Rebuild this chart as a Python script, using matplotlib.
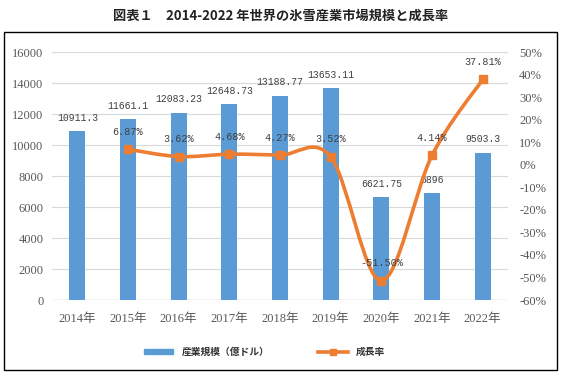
import matplotlib
matplotlib.use("Agg")
import matplotlib.pyplot as plt
from matplotlib.path import Path
from matplotlib.patches import PathPatch, Rectangle
from matplotlib.lines import Line2D
import numpy as np

plt.rcParams['font.family'] = ['Noto Sans CJK JP', 'DejaVu Sans']

years = ["2014年", "2015年", "2016年", "2017年", "2018年", "2019年", "2020年", "2021年", "2022年"]
market = [10911.3, 11661.1, 12083.23, 12648.73, 13188.77, 13653.11, 6621.75, 6896, 9503.3]
market_labels = ["10911.3", "11661.1", "12083.23", "12648.73", "13188.77", "13653.11", "6621.75", "6896", "9503.3"]
growth_years_idx = [1, 2, 3, 4, 5, 6, 7, 8]
growth = [6.87, 3.62, 4.68, 4.27, 3.52, -51.50, 4.14, 37.81]
growth_labels = ["6.87%", "3.62%", "4.68%", "4.27%", "3.52%", "-51.50%", "4.14%", "37.81%"]

bar_color = "#5B9BD5"
line_color = "#ED7D31"
text_color = "#595959"
tick_family = ['Liberation Serif', 'Noto Sans CJK JP']
label_family = ['Liberation Mono', 'DejaVu Sans Mono']

fig = plt.figure(figsize=(5.61, 3.78), dpi=100)
ax = fig.add_axes([0.0927, 0.2063, 0.8128, 0.6561])
ax2 = ax.twinx()

x = np.arange(len(years))
ax.bar(x, market, width=0.32, color=bar_color, zorder=2)
ax.set_ylim(0, 16000)
ax.set_yticks(np.arange(0, 16001, 2000))
ax.set_xlim(-0.5, len(years) - 0.5)
ax.set_xticks(x)
ax.set_xticklabels(years)
ax.grid(axis='y', color="#D9D9D9", linewidth=0.8, zorder=0)
ax.set_axisbelow(True)
for s in ax.spines.values():
    s.set_visible(False)
for s in ax2.spines.values():
    s.set_visible(False)
ax.axhline(0, color="#D9D9D9", linewidth=1.0, zorder=1)
ax.tick_params(axis='both', length=0, labelsize=9, colors=text_color, pad=6)
ax.tick_params(axis='x', pad=9)
for t in ax.get_xticklabels() + ax.get_yticklabels():
    t.set_family(tick_family)

for xi, v, lab in zip(x, market, market_labels):
    ax.annotate(lab, (xi, v), xytext=(0, 6), textcoords='offset points',
                ha='center', va='bottom', fontsize=7, color="#404040",
                family=label_family, zorder=5)

ax2.set_ylim(-60, 50)
ax2.set_yticks(np.arange(-60, 51, 10))
ax2.set_yticklabels([f"{t}%" for t in range(-60, 51, 10)])
ax2.tick_params(axis='y', length=0, labelsize=9, colors=text_color, pad=8)
for t in ax2.get_yticklabels():
    t.set_family(tick_family)

# smoothed line (Excel-like cubic Bezier through points)
gx = np.array([x[i] for i in growth_years_idx], dtype=float)
gy = np.array(growth, dtype=float)
pts = np.column_stack([gx, gy])
n = len(pts)
verts = [tuple(pts[0])]
codes = [Path.MOVETO]
for i in range(n - 1):
    p0 = pts[i - 1] if i > 0 else pts[i]
    p1 = pts[i]
    p2 = pts[i + 1]
    p3 = pts[i + 2] if i + 2 < n else pts[i + 1]
    c1 = p1 + (p2 - p0) / 6.0
    c2 = p2 - (p3 - p1) / 6.0
    verts += [tuple(c1), tuple(c2), tuple(p2)]
    codes += [Path.CURVE4] * 3
path = Path(verts, codes)
ax2.add_patch(PathPatch(path, facecolor='none', edgecolor=line_color, linewidth=2.6,
                        capstyle='round', joinstyle='round', zorder=3))
ax2.plot(gx, gy, linestyle='none', marker='s', markersize=6, color=line_color, zorder=4)

for xi, v, lab in zip(gx, gy, growth_labels):
    ax2.annotate(lab, (xi, v), xytext=(0, 9), textcoords='offset points',
                 ha='center', va='bottom', fontsize=7.3, color="#404040",
                 family=label_family, zorder=6)

fig.text(0.5, 0.958, "図表１　2014-2022 年世界の氷雪産業市場規模と成長率",
         ha='center', va='center', fontsize=9.5, fontweight='bold', color="#222222")

fig.patches.append(Rectangle((4 / 561, 1 - 370 / 378), 553 / 561, 338 / 378,
                             transform=fig.transFigure, fill=False,
                             edgecolor='black', linewidth=1.0))

handles = [Rectangle((0, 0), 1, 1, color=bar_color),
           Line2D([0], [0], color=line_color, linewidth=2.6, marker='s', markersize=5)]
fig.legend(handles, ["産業規模（億ドル）", "成長率"], loc='center',
           bbox_to_anchor=(0.472, 0.069), ncol=2, frameon=False,
           prop={'family': ['Noto Sans CJK JP'], 'size': 7, 'weight': 'bold'},
           handlelength=3, handleheight=0.5, handletextpad=0.9,
           columnspacing=5.0, labelcolor="#333333")

fig.savefig("out.png", dpi=100)
